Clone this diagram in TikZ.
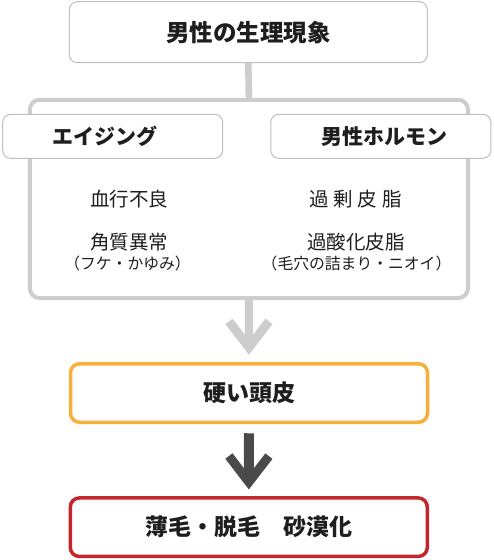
\documentclass[tikz,border=0pt]{standalone}
\usepackage{fontspec}
\setmainfont{Noto Sans CJK JP}
\usetikzlibrary{arrows.meta}
\definecolor{linegray}{RGB}{205,205,205}
\definecolor{boxgray}{RGB}{190,190,190}
\definecolor{hardorange}{RGB}{248,174,59}
\definecolor{hairred}{RGB}{196,38,46}
\definecolor{darkgray}{RGB}{74,74,74}
\definecolor{txt}{RGB}{30,30,30}

\begin{document}
\begin{tikzpicture}[x=1pt,y=-1pt,
  box/.style={draw,fill=white,rounded corners=9pt,inner sep=0pt,outer sep=0pt,text=txt},
  thinbox/.style={box,draw=boxgray,line width=1pt,rounded corners=8pt},
  colorbox/.style={box,line width=3.5pt,minimum width=357pt,minimum height=58.5pt,
    font=\fontsize{23}{27}\selectfont\bfseries},
  head/.style={text=txt,inner sep=0pt,font=\fontsize{21}{25}\selectfont\bfseries},
  body/.style={text=txt,inner sep=0pt,font=\fontsize{19.5}{23}\selectfont},
  small/.style={text=txt,inner sep=0pt,font=\fontsize{15.8}{18}\selectfont},
  flow/.style={line width=#1,-{Straight Barb[sharp,length=26pt,width=40pt,line width=9pt]}}]
  \useasboundingbox[fill=white] (0,0) rectangle (494,560);
  % container
  \node[box,draw=linegray,line width=4pt,rounded corners=10pt,
    minimum width=438.3pt,minimum height=198.3pt] (cont) at (248.9,198.9) {};
  \node[thinbox,minimum width=220pt,minimum height=44pt] (aging) at (112.7,136.3) {};
  \node[thinbox,minimum width=220pt,minimum height=44pt] (hormone) at (380.8,136.3) {};
  \node[head] (agingtext) at (105,136.5) {エイジング};
  \node[head] (hormonetext) at (384.5,136.5) {男性ホルモン};
  % top
  \node[thinbox,minimum width=358pt,minimum height=61pt,
    font=\fontsize{23.5}{27}\selectfont\bfseries] (top) at (248.3,32.2) {男性の生理現象};
  \draw[linegray,line width=6.6pt] (top.south) -- (cont.north);
  % causes
  \node[body] (blood) at (129,199) {血行不良};
  \node[body] (horny) at (129,241.7) {角質異常};
  \node[small] (fuke) at (127.5,263.7) {（フケ・かゆみ）};
  \node[body] (sebum) at (355.5,199) {過\kern5pt 剰\kern5pt 皮\kern5pt 脂};
  \node[body] (oxide) at (356,241.7) {過酸化皮脂};
  \node[small] (pore) at (356.5,263.7) {（毛穴の詰まり・ニオイ）};
  % results
  \node[colorbox,draw=hardorange] (hard) at (249,393) {硬い頭皮};
  \node[colorbox,draw=hairred] (loss) at (248.8,527.2) {薄毛・脱毛　砂漠化};
  \draw[flow=8pt,linegray,shorten >=9pt] (cont.south) -- (hard.north);
  \draw[flow=10pt,darkgray,shorten <=11pt,shorten >=8.5pt] (hard.south) -- (loss.north);
\end{tikzpicture}
\end{document}
